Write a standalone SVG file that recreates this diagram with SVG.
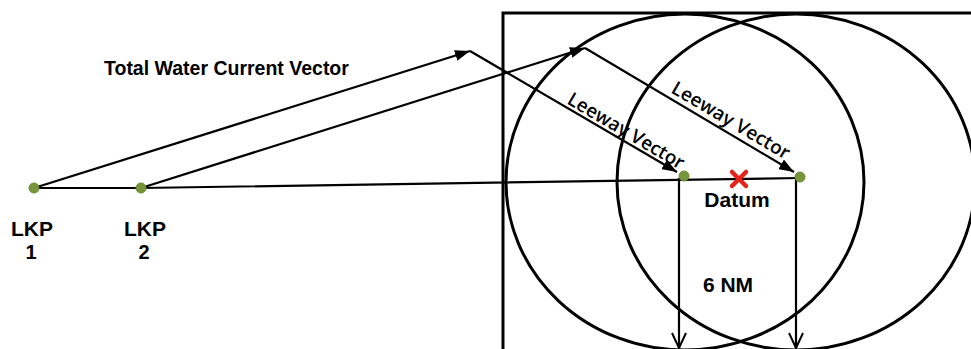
<svg xmlns="http://www.w3.org/2000/svg" width="971" height="349" viewBox="0 0 971 349">
<style>
.lbl{font-family:"Liberation Sans",Arial,sans-serif;font-weight:bold;fill:#000}
.lee{font-family:"Open Sans","Noto Sans",sans-serif;font-size:19px;font-weight:600;fill:#000}
.vec{stroke:#000;stroke-width:2.2;fill:none}
.thick{stroke:#000;stroke-width:3;fill:none}
.dot{fill:#77963b;stroke:#6a8a33;stroke-width:1}
</style>
<defs>
<marker id="ah" viewBox="0 0 15 11" refX="15" refY="5.5" markerWidth="15" markerHeight="11" markerUnits="userSpaceOnUse" orient="auto">
<path d="M0,0 L15,5.5 L0,11 z" fill="#000"/>
</marker>
<marker id="va" viewBox="0 0 16 18" refX="8" refY="16" markerWidth="16" markerHeight="18" markerUnits="userSpaceOnUse" orient="0">
<path d="M1,1 L8,16 L15,1" fill="none" stroke="#000" stroke-width="2"/>
</marker>
</defs>
<rect width="971" height="349" fill="#fff"/>
<g id="search-area">
<path class="thick" d="M503,352 V13 H975"/>
<ellipse class="thick" cx="685" cy="182" rx="179" ry="168"/>
<ellipse class="thick" cx="796" cy="182" rx="179" ry="168"/>
</g>
<g id="connectors">
<path class="vec" d="M34,188 L141,188 L800,178"/>
<line class="vec" x1="34" y1="188" x2="470" y2="51" marker-end="url(#ah)"/>
<line class="vec" x1="141" y1="188" x2="585" y2="48" marker-end="url(#ah)"/>
<line class="vec" x1="470" y1="51" x2="677" y2="172" marker-end="url(#ah)"/>
<line class="vec" x1="585" y1="48" x2="794" y2="172" marker-end="url(#ah)"/>
<line class="vec" x1="679" y1="178" x2="679" y2="348" marker-end="url(#va)"/>
<line class="vec" x1="796" y1="178" x2="796" y2="348" marker-end="url(#va)"/>
</g>
<g id="lkp1">
<circle class="dot" cx="34" cy="188" r="5"/>
<text class="lbl" x="32" y="236" font-size="21" text-anchor="middle">LKP</text>
<text class="lbl" x="31" y="259" font-size="20" text-anchor="middle">1</text>
</g>
<g id="lkp2">
<circle class="dot" cx="141" cy="188" r="5"/>
<text class="lbl" x="145" y="236" font-size="21" text-anchor="middle">LKP</text>
<text class="lbl" x="144" y="259" font-size="20" text-anchor="middle">2</text>
</g>
<g id="drift1">
<circle class="dot" cx="684" cy="176" r="5"/>
</g>
<g id="drift2">
<circle class="dot" cx="800" cy="177" r="5"/>
</g>
<g id="datum">
<path d="M732,172 L746,186 M746,172 L732,186" stroke="#e2231a" stroke-width="4.5" stroke-linecap="round"/>
<text class="lbl" x="737" y="207" font-size="21" text-anchor="middle">Datum</text>
</g>
<text class="lbl" x="104" y="75" font-size="19.5">Total Water Current Vector</text>
<text class="lee" transform="translate(566,103) rotate(30.4)" textLength="132" lengthAdjust="spacingAndGlyphs">Leeway Vector</text>
<text class="lee" transform="translate(670,92) rotate(30.5)" textLength="134" lengthAdjust="spacingAndGlyphs">Leeway Vector</text>
<text class="lbl" x="728" y="292" font-size="21" text-anchor="middle">6 NM</text>
</svg>
